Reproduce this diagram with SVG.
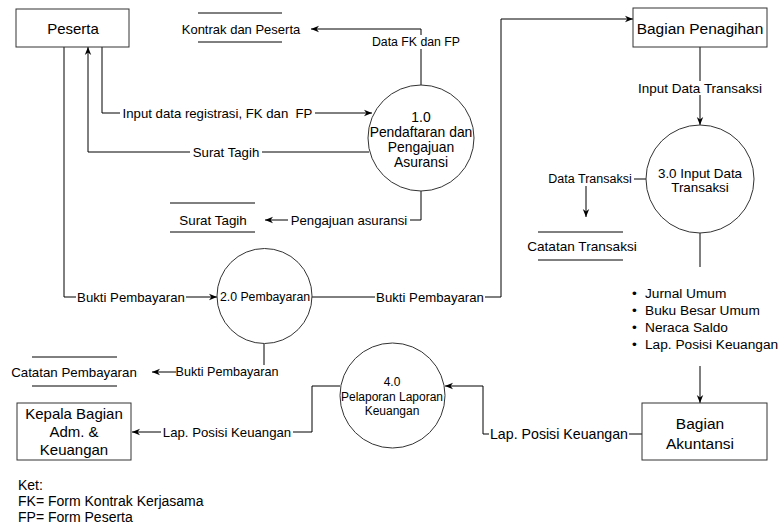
<svg xmlns="http://www.w3.org/2000/svg" width="781" height="524" viewBox="0 0 781 524">
<defs>
<marker id="arr" viewBox="0 0 10 10" refX="10" refY="5" markerWidth="8" markerHeight="8" markerUnits="userSpaceOnUse" orient="auto">
<path d="M0,1 L10,5 L0,9 L3,5 z" fill="#000"/>
</marker>
<style>
text{font-family:"Liberation Sans",Arial,sans-serif;fill:#000;dominant-baseline:central}
.c{text-anchor:middle}
.lbl{font-size:13.2px}
.ds{font-size:13.4px}
.ent{font-size:15.5px}
.node rect,.node circle{fill:#fff;stroke:#333;stroke-width:1}
.store line{stroke:#000;stroke-width:1}
.edge{fill:none;stroke:#000;stroke-width:1}
.arrow{marker-end:url(#arr)}
.bg{fill:#fff}
</style>
</defs>
<rect width="781" height="524" fill="#fff"/>

<g id="connectors">
<path class="edge arrow" d="M102,47 V113 H372"/>
<path class="edge arrow" d="M369,152 H88 V47"/>
<path class="edge arrow" d="M421,85 V29 H311"/>
<path class="edge arrow" d="M421,191 V220 H265"/>
<path class="edge arrow" d="M64,47 V297 H217"/>
<path class="edge arrow" d="M312,297 H501 V19 H633"/>
<path class="edge arrow" d="M264,344 V372 H152"/>
<path class="edge arrow" d="M700,47 V125"/>
<path class="edge arrow" d="M646,179 H586 V217"/>
<path class="edge arrow" d="M700,233 V403"/>
<path class="edge arrow" d="M642,434 H483 V386 H445"/>
<path class="edge arrow" d="M340,386 H312 V432 H132"/>

<rect class="bg" x="371" y="35" width="90" height="14"/>
<text class="c" style="font-size:12.3px" x="416" y="42">Data FK dan FP</text>
<rect class="bg" x="120" y="106" width="195" height="14"/>
<text class="lbl c" x="217.5" y="113" xml:space="preserve">Input data registrasi, FK dan  FP</text>
<rect class="bg" x="190" y="145" width="72" height="14"/>
<text class="lbl c" x="226" y="152">Surat Tagih</text>
<rect class="bg" x="288" y="213" width="122" height="14"/>
<text class="lbl c" x="349" y="220">Pengajuan asuransi</text>
<rect class="bg" x="636" y="81" width="128" height="14"/>
<text class="c" style="font-size:13.5px" x="700" y="88">Input Data Transaksi</text>
<rect class="bg" x="546" y="172" width="88" height="14"/>
<text class="c" style="font-size:12.5px" x="590" y="179">Data Transaksi</text>
<rect class="bg" x="76" y="290" width="110" height="14"/>
<text class="lbl c" x="131" y="297">Bukti Pembayaran</text>
<rect class="bg" x="375" y="290" width="110" height="14"/>
<text class="lbl c" x="430" y="297">Bukti Pembayaran</text>
<rect class="bg" x="176" y="365" width="103" height="14"/>
<text class="c" style="font-size:12.6px" x="227" y="372">Bukti Pembayaran</text>
<rect class="bg" x="161" y="425" width="132" height="14"/>
<text class="lbl c" x="227" y="432">Lap. Posisi Keuangan</text>
<rect class="bg" x="489" y="426" width="140" height="16"/>
<text class="c" style="font-size:14.2px" x="559" y="434">Lap. Posisi Keuangan</text>

<rect class="bg" x="628" y="267" width="153" height="99"/>
<g style="font-size:13.7px">
<text x="632" y="293">•</text>
<text x="645" y="293">Jurnal Umum</text>
<text x="632" y="310">•</text>
<text x="645" y="310">Buku Besar Umum</text>
<text x="632" y="327">•</text>
<text x="645" y="327">Neraca Saldo</text>
<text x="632" y="344">•</text>
<text x="645" y="344">Lap. Posisi Keuangan</text>
</g>
</g>

<g id="peserta" class="node">
<rect x="16" y="9" width="113" height="38"/>
<text class="c" style="font-size:15px" x="73" y="28">Peserta</text>
</g>
<g id="bagian-penagihan" class="node">
<rect x="633" y="8" width="134" height="39"/>
<text class="ent c" x="700" y="28">Bagian Penagihan</text>
</g>
<g id="bagian-akuntansi" class="node">
<rect x="642" y="403" width="125" height="57"/>
<text class="ent c" x="700" y="423">Bagian</text>
<text class="ent c" x="700" y="443">Akuntansi</text>
</g>
<g id="kepala-bagian" class="node">
<rect x="17" y="403" width="114" height="57"/>
<text class="c" style="font-size:15px" x="74" y="413">Kepala Bagian</text>
<text class="c" style="font-size:15px" x="74" y="431">Adm. &amp;</text>
<text class="c" style="font-size:15px" x="74" y="449">Keuangan</text>
</g>

<g id="p1" class="node">
<circle cx="421" cy="138" r="53"/>
<text class="c" style="font-size:13.9px" x="421" y="117">1.0</text>
<text class="c" style="font-size:13.9px" x="421" y="132">Pendaftaran dan</text>
<text class="c" style="font-size:13.9px" x="421" y="147">Pengajuan</text>
<text class="c" style="font-size:13.9px" x="421" y="162">Asuransi</text>
</g>
<g id="p2" class="node">
<circle cx="264.5" cy="296" r="47.5"/>
<text class="c" style="font-size:12.3px" x="265" y="297">2.0 Pembayaran</text>
</g>
<g id="p3" class="node">
<circle cx="700" cy="179" r="54"/>
<text class="c" style="font-size:13.4px" x="700" y="173">3.0 Input Data</text>
<text class="c" style="font-size:13.4px" x="700" y="187">Transaksi</text>
</g>
<g id="p4" class="node">
<circle cx="392.5" cy="395.5" r="52.5"/>
<text class="c" style="font-size:12px" x="392" y="382">4.0</text>
<text class="c" style="font-size:12px" x="392" y="397">Pelaporan Laporan</text>
<text class="c" style="font-size:12px" x="392" y="411">Keuangan</text>
</g>

<g id="store-kontrak" class="store">
<line x1="198" y1="13" x2="282" y2="13"/>
<line x1="198" y1="42" x2="282" y2="42"/>
<text class="c" style="font-size:13px" x="241" y="29">Kontrak dan Peserta</text>
</g>
<g id="store-surat" class="store">
<line x1="170" y1="203" x2="255" y2="203"/>
<line x1="170" y1="232" x2="255" y2="232"/>
<text class="ds c" x="213" y="220">Surat Tagih</text>
</g>
<g id="store-transaksi" class="store">
<line x1="538" y1="232" x2="623" y2="232"/>
<line x1="538" y1="260" x2="623" y2="260"/>
<text class="c" style="font-size:13.6px" x="582" y="246">Catatan Transaksi</text>
</g>
<g id="store-pembayaran" class="store">
<line x1="32" y1="357" x2="117" y2="357"/>
<line x1="32" y1="386" x2="117" y2="386"/>
<text class="c" style="font-size:13.3px" x="74" y="372">Catatan Pembayaran</text>
</g>

<g id="ket">
<text style="font-size:14px" x="18" y="485">Ket:</text>
<text style="font-size:14px" x="18" y="501">FK= Form Kontrak Kerjasama</text>
<text style="font-size:14px" x="18" y="517">FP= Form Peserta</text>
</g>
</svg>
